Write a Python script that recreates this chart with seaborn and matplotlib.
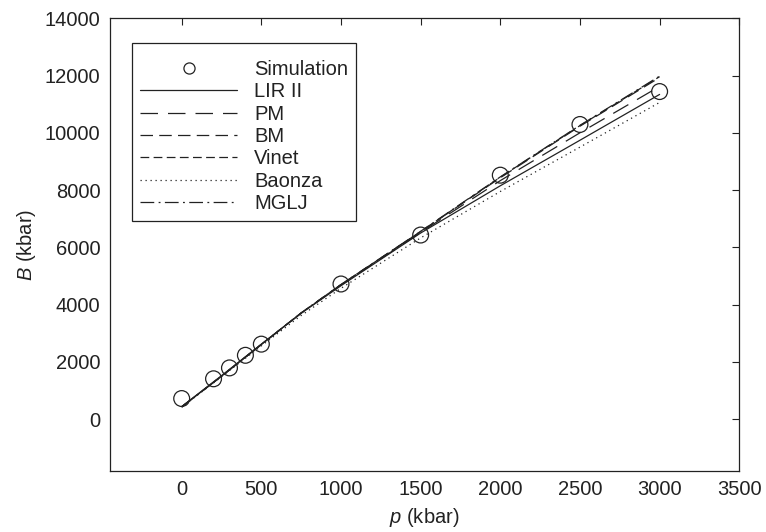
import numpy as np
import pandas as pd
import matplotlib
matplotlib.use("Agg")
import matplotlib.pyplot as plt
import seaborn as sns
from matplotlib.lines import Line2D

# ---- data ----
p_sim = [0, 200, 300, 400, 500, 1000, 1500, 2000, 2500, 3000]
B_sim = [720, 1410, 1790, 2230, 2620, 4720, 6430, 8520, 10290, 11440]

p_fit = [0, 250, 500, 750, 1000, 1500, 2000, 2500, 3000]
B_lir = [440, 1520, 2620, 3700, 4660, 6500, 8150, 9740, 11340]
B_pm = [430, 1500, 2600, 3700, 4690, 6520, 8330, 10000, 11620]
B_bm = [430, 1500, 2610, 3710, 4700, 6550, 8430, 10230, 11930]
B_vinet = [430, 1500, 2610, 3710, 4700, 6550, 8450, 10250, 11960]
B_baonza = [420, 1480, 2560, 3620, 4570, 6330, 7950, 9500, 11060]
B_mglj = [430, 1500, 2610, 3710, 4700, 6560, 8460, 10260, 11980]

models = ["LIR II", "PM", "BM", "Vinet", "Baonza", "MGLJ"]
model_vals = [B_lir, B_pm, B_bm, B_vinet, B_baonza, B_mglj]

xticks = [0, 500, 1000, 1500, 2000, 2500, 3000, 3500]
yticks = [0, 2000, 4000, 6000, 8000, 10000, 12000, 14000]

# ---- style ----
sns.set_theme(style="white")
plt.rcParams["font.family"] = ["Liberation Sans", "DejaVu Sans"]
plt.rcParams["mathtext.fontset"] = "custom"
plt.rcParams["mathtext.it"] = "Liberation Sans:italic"
plt.rcParams["mathtext.rm"] = "Liberation Sans"

ink = "#222222"
fs = 14.5

rows = []
for m, vals in zip(models, model_vals):
    for p, b in zip(p_fit, vals):
        rows.append({"p": p, "B": b, "model": m})
df = pd.DataFrame(rows)
df_sim = pd.DataFrame({"p": p_sim, "B": B_sim})

dashes = {
    "LIR II": "",
    "PM": (14, 8),
    "BM": (10, 5),
    "Vinet": (7, 3.5),
    "Baonza": (1, 3),
    "MGLJ": (11, 3.5, 1.5, 3.5),
}

fig = plt.figure(figsize=(7.66, 5.32), dpi=100)
ax = fig.add_axes([0.1436, 0.1152, 0.8215, 0.8505])

sns.lineplot(data=df, x="p", y="B", style="model", style_order=models,
             dashes=dashes, color=ink, linewidth=0.9, ax=ax, legend=False,
             sort=True)
sns.scatterplot(data=df_sim, x="p", y="B", marker="o", s=130,
                facecolor="none", edgecolor=ink, linewidth=0.9, ax=ax,
                legend=False, zorder=5)

ax.set_xlim(-450, 3500)
ax.set_ylim(-1800, 14000)
ax.set_xticks(xticks)
ax.set_yticks(yticks)
ax.tick_params(axis="both", labelsize=fs, colors=ink, length=5, width=0.8,
               top=True, right=True, direction="in", pad=7)
for s in ax.spines.values():
    s.set_color(ink)
    s.set_linewidth(0.9)

ax.set_xlabel("$p$ (kbar)", fontsize=fs, color=ink, labelpad=5)
ax.set_ylabel("$B$ (kbar)", fontsize=fs, color=ink, labelpad=5)

# legend
handles = [Line2D([], [], marker="o", linestyle="none", markersize=8,
                  markerfacecolor="none", markeredgecolor=ink,
                  markeredgewidth=0.9)]
for line in ax.get_lines()[:len(models)]:
    h = Line2D([], [], color=ink, linewidth=0.9)
    h.update_from(line)
    handles.append(h)
labels = ["Simulation"] + models
leg = ax.legend(handles, labels, loc="upper left",
                bbox_to_anchor=(0.0354, 0.9446), borderaxespad=0,
                fontsize=fs, handlelength=4.8, handletextpad=0.85,
                labelspacing=0.17, borderpad=0.4, fancybox=False,
                frameon=True, edgecolor=ink, framealpha=1,
                title=" ", title_fontsize=3.5)
leg.get_frame().set_linewidth(0.9)
for t in leg.get_texts():
    t.set_color(ink)

fig.savefig("out.png", dpi=100)
